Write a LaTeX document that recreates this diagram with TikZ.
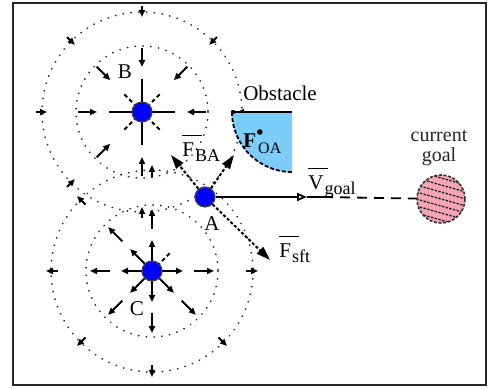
\documentclass[tikz,border=0pt]{standalone}
\usepackage{fontspec}
\setmainfont{Liberation Serif}
\usetikzlibrary{arrows.meta,calc}
\definecolor{robotblue}{RGB}{0,0,255}
\definecolor{obstblue}{RGB}{125,205,250}
\definecolor{goalpink}{RGB}{245,165,180}
\newcommand{\vlab}[2]{\makebox[0pt][l]{\raisebox{10.5pt}{\rule{10pt}{0.6pt}}}#1\kern0.5pt\raisebox{-2.5pt}{\fontsize{9}{9}\selectfont #2}}
\begin{document}
\begin{tikzpicture}[x=0.5pt,y=-0.5pt,
  frame/.style={draw=black!85,line width=1.2pt},
  dotc/.style={draw=black!85,line width=0.9pt,dash pattern=on 0.1pt off 3.8pt,line cap=round},
  rad/.style={line width=0.9pt,draw=black},
  arr/.style={line width=0.9pt,draw=black,-{Triangle[length=3.5pt,width=3pt]}},
  farr/.style={line width=1pt,draw=black,dash pattern=on 1.5pt off 1pt,-{Triangle[length=7pt,width=4.5pt]}},
  robot/.style={circle,fill=robotblue,draw=black!75,line width=0.6pt,minimum size=10pt,inner sep=0pt},
  goal/.style={circle,minimum size=24pt,inner sep=0pt,fill=goalpink,draw=black!80,line width=0.8pt,dash pattern=on 1.5pt off 0.8pt,
    path picture={\foreach \k in {-5,...,5}
      \draw[black!85,line width=0.7pt,dash pattern=on 1.2pt off 0.7pt] ($(path picture bounding box.center)+(-32,\k*7-9)$) -- ++(64,18);}},
  lab/.style={font=\fontsize{10.5}{12}\selectfont,inner sep=0pt}
]
\useasboundingbox (0,0) rectangle (488,389);
\draw[frame] (13,3) rectangle (486,385);

\coordinate (b) at (142,112);
\coordinate (c) at (152,271);

% dotted field circles
\draw[dotc] (b) circle (66);
\draw[dotc] (b) circle (100);
\draw[dotc] (c) circle (66);
\draw[dotc] (c) circle (101);

% field around B (inward)
\foreach \a in {0,90,180,270} \draw[rad] (b) -- ($(b)+(\a:33)$);
\foreach \a in {45,135,225,315} \draw[rad,dash pattern=on 2pt off 1.5pt] (b) -- ($(b)+(\a:27)$);
\foreach \a in {0,90,135,180,225,270,315} \draw[arr] ($(b)+(\a:64)$) -- ($(b)+(\a:45)$);
\foreach \a in {0,90,135,180,225,270,315} \draw[arr] ($(b)+(\a:106)$) -- ($(b)+(\a:95)$);

% field around C (outward)
\foreach \a in {0,45,90,135,180,225,270} \draw[arr] (c) -- ($(c)+(\a:31)$);
\draw[rad,dash pattern=on 2pt off 1.5pt] (c) -- ($(c)+(315:27)$);
\foreach \a in {0,45,90,135,180,225,270} \draw[arr] ($(c)+(\a:42)$) -- ($(c)+(\a:62)$);
\foreach \a in {0,45,90,135,180,225,270} \draw[arr] ($(c)+(\a:94)$) -- ($(c)+(\a:106)$);

% obstacle
\fill[obstblue] (232,112) arc[start angle=180,end angle=90,radius=60] -- (292,112) -- cycle;
\draw[black,line width=0.9pt,dash pattern=on 2pt off 1pt] (232,112) arc[start angle=180,end angle=90,radius=60];
\draw[black,line width=1pt] (232,112) -- (292,112);
\fill (233,112) circle (2.2);

% robots
\node[robot] (B) at (b) {};
\node[robot] (C) at (c) {};
\node[robot] (A) at (205,197) {};

% goal
\node[goal] (G) at (441,199) {};

% force vectors
\coordinate (fba) at (171,155);
\coordinate (foa) at (234,155);
\coordinate (fsf) at (270,260);
\draw[farr] (A) -- (fba);
\draw[farr] (A) -- (foa);
\draw[farr] (A) -- (fsf);
\coordinate (vt) at (307,197);
\coordinate (ve) at (323,197);
\draw[line width=0.9pt,-{Triangle[open,length=5pt,width=4pt]}] (A) -- (vt);
\draw[line width=0.9pt] (vt) -- (ve);
\draw[line width=0.9pt,dash pattern=on 5pt off 3.5pt] (ve) -- (G);

% labels
\node[lab] (lB) at (125,72) {B};
\node[lab] (lC) at (137,309) {C};
\node[lab] (lA) at (212,224) {A};
\node[lab] (lObs) at (280,93) {Obstacle};
\node[lab,anchor=base west] (lfba) at (182,157) {\vlab{F}{BA}};
\node[lab,anchor=base west] (lfsf) at (279,258) {\vlab{F}{sft}};
\node[lab,anchor=base west] (lvg) at (308,190) {\vlab{V}{goal}};
\node[lab,anchor=base west] (lfoa) at (243,148) {\textbf{F}\makebox[0pt][l]{\raisebox{6pt}{\fontsize{6}{6}\selectfont$\bullet$}}\kern1pt\raisebox{-3pt}{\fontsize{8}{8}\selectfont OA}};
\node[lab,align=center,font=\fontsize{10}{10}\selectfont,text=black!85] (lgoal) at (439,148) {current\\goal};
\end{tikzpicture}
\end{document}
